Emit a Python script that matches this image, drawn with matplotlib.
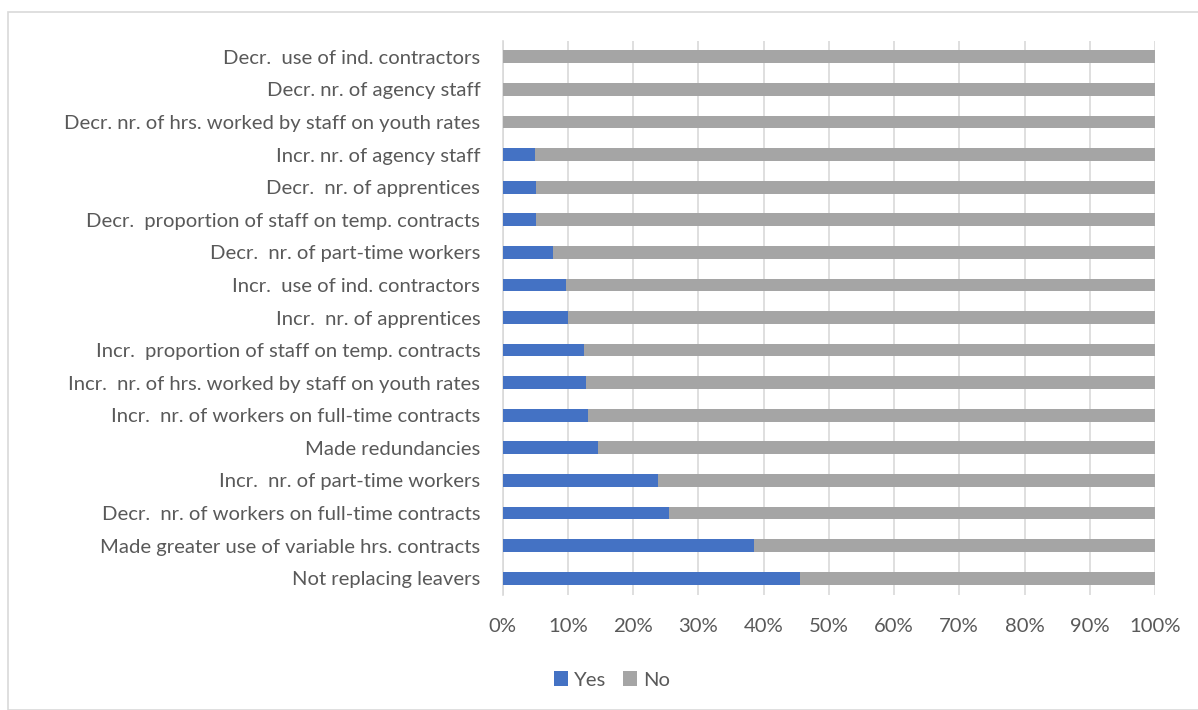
import matplotlib
matplotlib.use("Agg")
import matplotlib.pyplot as plt
from matplotlib.patches import Rectangle
from matplotlib.ticker import FuncFormatter

categories = [
    "Not replacing leavers",
    "Made greater use of variable hrs. contracts",
    "Decr.  nr. of workers on full-time contracts",
    "Incr.  nr. of part-time workers",
    "Made redundancies",
    "Incr.  nr. of workers on full-time contracts",
    "Incr.  nr. of hrs. worked by staff on youth rates",
    "Incr.  proportion of staff on temp. contracts",
    "Incr.  nr. of apprentices",
    "Incr.  use of ind. contractors",
    "Decr.  nr. of part-time workers",
    "Decr.  proportion of staff on temp. contracts",
    "Decr.  nr. of apprentices",
    "Incr. nr. of agency staff",
    "Decr. nr. of hrs. worked by staff on youth rates",
    "Decr. nr. of agency staff",
    "Decr.  use of ind. contractors",
]
yes = [45.6, 38.6, 25.5, 23.8, 14.6, 13.1, 12.8, 12.5, 10.0, 9.8, 7.7, 5.2, 5.1, 5.0, 0.0, 0.0, 0.0]
no = [100 - v for v in yes]

plt.rcParams['font.family'] = ['Lato', 'DejaVu Sans']
text_color = "#595959"
fs = 14.6

fig = plt.figure(figsize=(11.98, 7.10), dpi=100)
ax = fig.add_axes([502.5/1198, 1 - 594.5/710, (1155-502.5)/1198, (594.5-40.5)/710])

pos = list(range(len(categories)))
ax.barh(pos, yes, height=0.39, color="#4472C4", label="Yes", zorder=3)
ax.barh(pos, no, left=yes, height=0.39, color="#A5A5A5", label="No", zorder=3)

ax.set_xlim(0, 100)
ax.set_ylim(-0.5, len(categories) - 0.5)
ax.set_xticks(range(0, 101, 10))
ax.xaxis.set_major_formatter(FuncFormatter(lambda v, p: f"{int(v)}%"))
ax.set_yticks(pos)
ax.set_yticklabels(categories)
ax.grid(axis="x", color="#d9d9d9", linewidth=1.2, zorder=0)
for s in ["top", "right", "bottom"]:
    ax.spines[s].set_visible(False)
ax.spines["left"].set_color("#d9d9d9")
ax.spines["left"].set_linewidth(1.2)
ax.tick_params(axis="both", length=0, labelsize=fs, colors=text_color)
ax.tick_params(axis="y", pad=16)
ax.tick_params(axis="x", pad=17)

leg = fig.legend(loc="center", bbox_to_anchor=(612/1198, 1 - 680/710), ncol=2, frameon=False,
                 fontsize=fs, handlelength=0.7, handleheight=0.7, columnspacing=0.8, handletextpad=0.3)
for t in leg.get_texts():
    t.set_color(text_color)

fig.patches.append(Rectangle((8/1198, 0), 1.5, 1 - 12/710, transform=fig.transFigure,
                             fill=False, edgecolor="#d9d9d9", linewidth=1.2))

fig.savefig("out.png", dpi=100)
